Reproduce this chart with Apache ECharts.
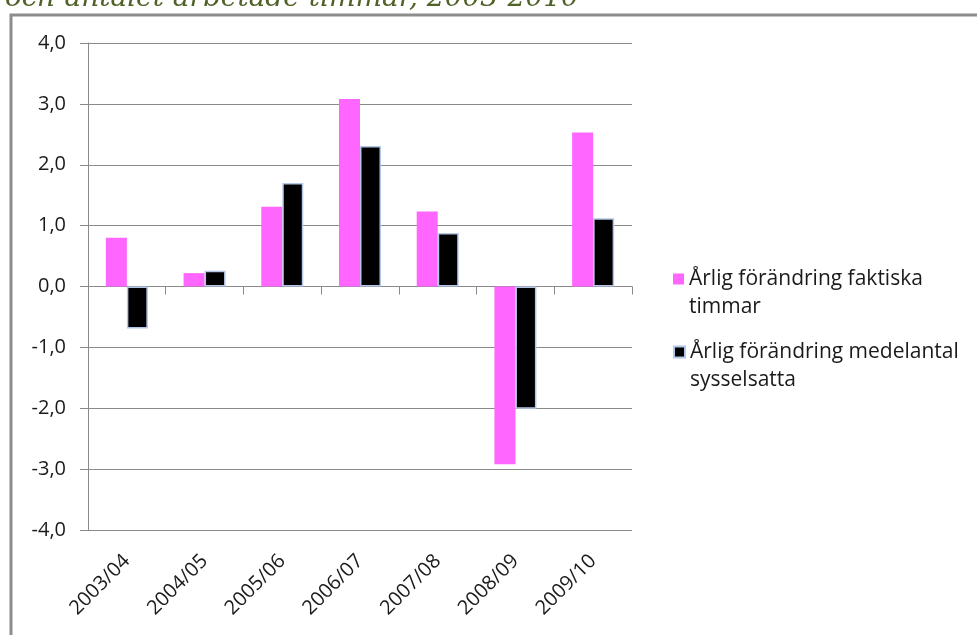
<!DOCTYPE html>
<html>
<head>
<meta charset="utf-8">
<title>Årlig förändring</title>
<script src="https://cdn.jsdelivr.net/npm/echarts@6/dist/echarts.min.js"></script>
<style>
  html, body { margin: 0; padding: 0; background: #fff; }
  #chart { width: 977px; height: 635px; }
</style>
</head>
<body>
<div id="chart"></div>
<script>
// data
const categories = ['2003/04', '2004/05', '2005/06', '2006/07', '2007/08', '2008/09', '2009/10']
const timmar = [0.80, 0.22, 1.31, 3.08, 1.23, -2.92, 2.53]        // Årlig förändring faktiska timmar
const sysselsatta = [-0.69, 0.26, 1.70, 2.31, 0.88, -2.01, 1.12]  // Årlig förändring medelantal sysselsatta
const seriesNames = ['Årlig förändring faktiska timmar', 'Årlig förändring medelantal sysselsatta']
const legendLabels = ['Årlig förändring faktiska\ntimmar', 'Årlig förändring medelantal\nsysselsatta']
const yTicks = [-4, -3, -2, -1, 0, 1, 2, 3, 4]
const titleText = 'och antalet arbetade timmar, 2003-2010'

const chart = echarts.init(document.getElementById('chart'))

const gridColor = '#8a8a8a'
const textColor = '#1a1a1a'
const font = '"Open Sans", "Noto Sans", sans-serif'

// legend: blank line above keeps the first text line level with the icon
function legendFor(i, top) {
  return {
    show: true,
    data: [seriesNames[i]],
    left: 673,
    top: top,
    padding: 0,
    icon: 'rect',
    itemWidth: 11,
    itemHeight: 11,
    selectedMode: false,
    formatter: () => '\n' + legendLabels[i],
    textStyle: { fontFamily: font, fontSize: 21, color: textColor, lineHeight: 28 }
  }
}

const option = {
  animation: false,
  backgroundColor: '#fff',
  graphic: [
    {
      // title is cut off by the top of the picture
      type: 'text',
      left: 5,
      top: -15,
      style: {
        text: titleText,
        font: 'italic 28px "DejaVu Serif", serif',
        fill: '#4f6228'
      }
    },
    {
      type: 'rect',
      shape: { x: 11, y: 15, width: 1100, height: 800 },
      style: { fill: 'none', stroke: '#8c8c8c', lineWidth: 3 },
      silent: true
    }
  ],
  legend: [legendFor(0, 237), legendFor(1, 310)],
  grid: { left: 88, right: 345, top: 43, bottom: 105 },
  xAxis: [
    {
      type: 'category',
      data: categories,
      position: 'bottom',
      axisLine: { show: false, onZero: false },
      axisTick: { show: false },
      axisLabel: {
        rotate: 45,
        margin: 28,
        fontFamily: font,
        fontSize: 20,
        color: textColor
      }
    },
    {
      type: 'category',
      data: categories,
      position: 'bottom',
      axisLine: { show: true, onZero: true, lineStyle: { color: gridColor, width: 1 } },
      axisTick: { show: true, length: 8, lineStyle: { color: gridColor } },
      axisLabel: { show: false }
    }
  ],
  yAxis: {
    type: 'value',
    min: -4,
    max: 4,
    interval: 1,
    axisLine: { show: true, lineStyle: { color: gridColor, width: 1 } },
    axisTick: { show: true, length: 8, lineStyle: { color: gridColor } },
    splitLine: { show: true, lineStyle: { color: gridColor, width: 1 } },
    axisLabel: {
      margin: 22,
      fontFamily: font,
      fontSize: 20,
      color: textColor,
      formatter: v => yTicks.includes(v) ? v.toFixed(1).replace('.', ',') : ''
    }
  },
  series: [
    {
      name: seriesNames[0],
      type: 'bar',
      data: timmar,
      barWidth: 21,
      barGap: '0%',
      itemStyle: { color: '#ff66ff' }
    },
    {
      name: seriesNames[1],
      type: 'bar',
      data: sysselsatta,
      barWidth: 21,
      barGap: '0%',
      itemStyle: { color: '#000000', borderColor: '#b4c6e7', borderWidth: 1.5 }
    }
  ]
}

chart.setOption(option)
</script>
</body>
</html>
